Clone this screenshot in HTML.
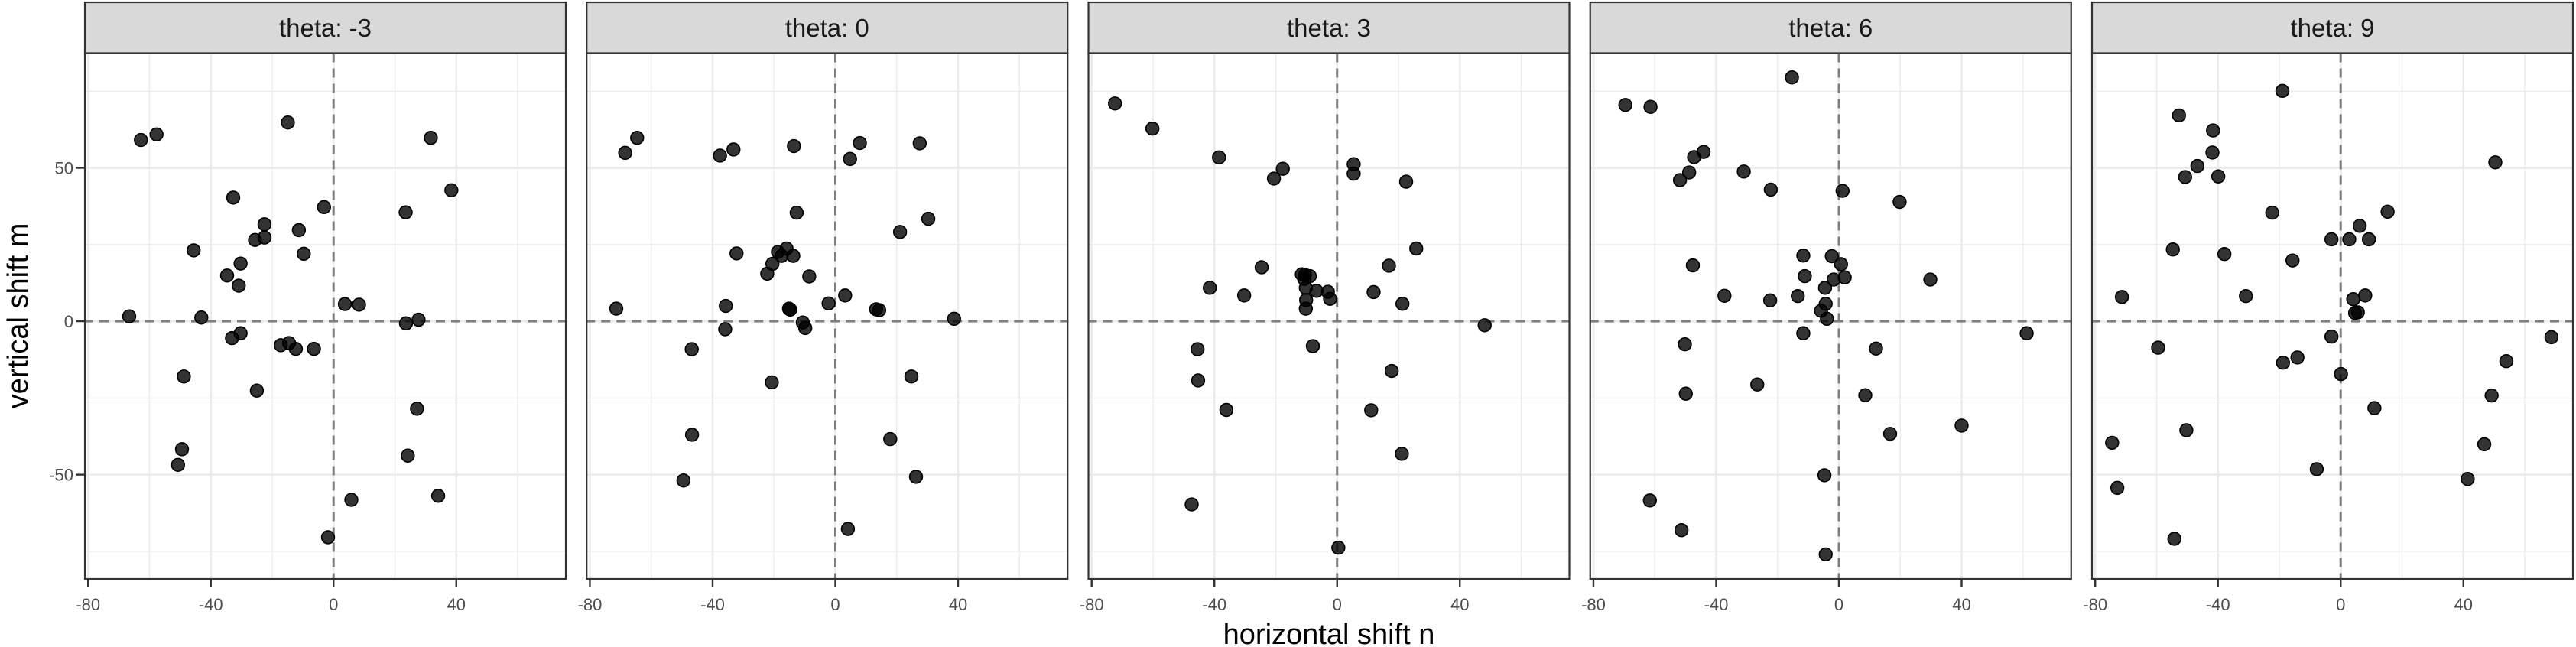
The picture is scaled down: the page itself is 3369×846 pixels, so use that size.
<!DOCTYPE html>
<html><head><meta charset="utf-8"><style>
html,body{margin:0;padding:0;background:#fff;}
svg{display:block;font-family:"Liberation Sans",Arial,sans-serif;}
</style></head><body>
<svg id="chart" width="3369" height="846" viewBox="0 0 3369 846" xmlns="http://www.w3.org/2000/svg">
<text x="1738" y="842" font-size="38" text-anchor="middle" fill="#000">horizontal shift n</text>
<text transform="translate(36,413) rotate(-90)" font-size="38" text-anchor="middle" fill="#000">vertical shift m</text>
</svg>
<script>
const thetas = [-3, 0, 3, 6, 9];
const xTicks = [-80, -40, 0, 40];
const yTicks = [-50, 0, 50];
const xMinor = [-60, -20, 20, 60];
const yMinor = [-75, -25, 25, 75];
const nVals = [
 [-62.8,-57.7,-14.9,31.7,38.4,-32.7,-3.1,23.5,-22.5,-11.3,-25.6,-22.5,-45.6,-9.7,-30.3,-34.7,-30.9,3.7,8.3,-66.6,-43.1,23.6,27.7,-33.1,-30.3,-17.2,-14.5,-12.3,-6.4,-48.8,-25.0,27.2,-49.4,-50.7,24.2,34.1,5.8,-1.8],
 [-64.6,-68.5,-37.6,-33.2,-13.5,8.0,4.8,27.5,-12.6,30.3,21.1,-32.2,-18.7,-15.9,-17.5,-13.7,-20.5,-22.2,-8.5,3.2,-2.2,-35.7,-71.4,-15.1,-14.7,13.3,14.3,38.7,-10.6,-9.8,-35.9,-46.8,-20.7,24.8,-46.7,17.9,-49.5,26.3,4.1],
 [-72.4,-60.2,-38.5,-17.7,-20.6,5.4,5.4,22.5,25.8,-24.6,16.9,-11.5,-10.5,-8.9,-10.7,-6.7,-3.0,-2.3,-10.2,-10.1,-10.2,-41.5,-30.3,11.9,21.3,48.1,-7.9,-45.5,-45.3,17.8,-36.1,11.1,21.1,-47.4,0.4],
 [-15.3,-69.6,-61.4,-44.1,-47.2,-48.8,-51.8,-31.0,-22.2,1.2,19.8,-11.6,-2.3,0.7,-47.6,-11.1,-1.7,1.9,29.8,-4.5,-37.3,-22.4,-13.4,-4.3,-5.8,-3.9,-11.6,61.2,-50.2,12.1,-26.6,-49.9,8.6,40.0,16.7,-4.7,-61.6,-51.3,-4.3],
 [-19.0,-52.7,-41.6,-41.8,-46.7,-50.7,-39.9,50.4,-22.3,15.3,6.2,-3.0,2.8,9.2,-54.7,-37.9,-15.7,-71.3,-30.9,8.0,4.1,4.7,5.6,-3.0,68.7,-59.5,-18.8,-14.1,0.1,54.0,49.2,11.0,-50.3,-74.5,46.8,-7.8,41.4,-72.8,-54.2]
];
const mVals = [
 [59.1,60.9,64.8,59.8,42.7,40.3,37.2,35.5,31.6,29.7,26.5,27.3,23.1,22.0,18.8,14.9,11.6,5.6,5.4,1.6,1.2,-0.7,0.5,-5.5,-3.9,-7.8,-7.1,-9.0,-9.0,-18.0,-22.6,-28.5,-41.7,-46.8,-43.8,-56.9,-58.2,-70.4],
 [59.8,54.9,54.0,56.0,57.1,58.1,52.9,58.0,35.4,33.4,29.1,22.1,22.6,23.7,21.3,21.3,18.7,15.5,14.6,8.4,5.8,5.0,4.1,4.1,3.8,3.9,3.6,0.8,-0.4,-2.2,-2.6,-9.1,-19.9,-18.0,-37.0,-38.4,-51.9,-50.7,-67.7],
 [71.0,62.8,53.4,49.7,46.5,51.2,48.1,45.5,23.7,17.6,18.1,15.3,15.1,14.7,13.8,9.9,9.6,7.3,10.9,6.9,4.1,10.9,8.4,9.5,5.7,-1.3,-8.1,-9.1,-19.3,-16.2,-28.9,-29.0,-43.2,-59.7,-73.8],
 [79.5,70.5,69.9,55.2,53.5,48.5,46.0,48.8,42.9,42.5,38.9,21.4,21.2,18.6,18.2,14.7,13.6,14.3,13.6,10.9,8.3,6.8,8.2,5.7,3.4,0.8,-3.9,-3.9,-7.5,-8.9,-20.6,-23.6,-24.1,-34.0,-36.7,-50.2,-58.4,-68.1,-76.0],
 [75.1,67.1,62.2,55.0,50.6,47.0,47.2,51.8,35.4,35.7,31.1,26.7,26.7,26.7,23.4,21.9,19.8,7.9,8.2,8.4,7.2,2.7,2.9,-5.0,-5.2,-8.6,-13.5,-11.8,-17.2,-13.0,-24.2,-28.3,-35.5,-39.6,-40.1,-48.2,-51.4,-54.3,-70.9]
];
const NS='http://www.w3.org/2000/svg';
const svg=document.getElementById('chart');
const P0=110, PW=631, PITCH=656.25, STRIP_T=2, TOP=69.5, BOT=757;
const XMIN=-81.3, XMAX=75.95, YMAX=87.4, YMIN=-84.0;
function mk(tag,attrs,parent){const e=document.createElementNS(NS,tag);for(const k in attrs)e.setAttribute(k,attrs[k]);(parent||svg).appendChild(e);return e;}
thetas.forEach((th,i)=>{
  const L=P0+i*PITCH;
  const sx=v=>L+(v-XMIN)/(XMAX-XMIN)*PW;
  const sy=v=>TOP+(YMAX-v)/(YMAX-YMIN)*(BOT-TOP);
  const g=mk('g',{});
  
  
  const bg=mk('rect',{x:L,y:TOP,width:PW,height:BOT-TOP,fill:'#fff'},g);
  
  
  xMinor.forEach(v=>{const l=mk('line',{x1:sx(v),x2:sx(v),y1:TOP,y2:BOT,stroke:'#ebebeb','stroke-width':1.3},g);});
  yMinor.forEach(v=>{const l=mk('line',{x1:L,x2:L+PW,y1:sy(v),y2:sy(v),stroke:'#ebebeb','stroke-width':1.3},g);});
  xTicks.forEach(v=>{const l=mk('line',{x1:sx(v),x2:sx(v),y1:TOP,y2:BOT,stroke:'#ebebeb','stroke-width':2.6},g);});
  yTicks.forEach(v=>{const l=mk('line',{x1:L,x2:L+PW,y1:sy(v),y2:sy(v),stroke:'#ebebeb','stroke-width':2.6},g);});
  const hz=mk('line',{x1:L,x2:L+PW,y1:sy(0),y2:sy(0),stroke:'#7f7f7f','stroke-width':3,'stroke-dasharray':'12 8'},g);
  
  
  const vz=mk('line',{x1:sx(0),x2:sx(0),y1:TOP,y2:BOT,stroke:'#7f7f7f','stroke-width':3,'stroke-dasharray':'12 8'},g);
  
  
  nVals[i].forEach((n,j)=>{
    const c=mk('circle',{cx:sx(n),cy:sy(mVals[i][j]),r:8.4,fill:'rgba(0,0,0,0.8)',stroke:'#000','stroke-width':1.6},g);
    
    
  });
  const bd=mk('rect',{x:L+1,y:TOP,width:PW-2,height:BOT-TOP,fill:'none',stroke:'#333','stroke-width':2.2},g);
  
  
  const st=mk('rect',{x:L+1,y:STRIP_T+1,width:PW-2,height:TOP-STRIP_T-1,fill:'#d9d9d9',stroke:'#333','stroke-width':2.2},g);
  
  
  const tt=mk('text',{x:L+PW/2,y:48,'font-size':33,'text-anchor':'middle',fill:'#1a1a1a'},g);
  tt.textContent='theta: '+th;
  
  
  xTicks.forEach(v=>{
    const t=mk('line',{x1:sx(v),x2:sx(v),y1:BOT,y2:BOT+11,stroke:'#333','stroke-width':2.4},g);
    
    
    const lb=mk('text',{x:sx(v),y:798,'font-size':22,'text-anchor':'middle',fill:'#4d4d4d'},g);
    lb.textContent=v;
    
    
  });
  if(i===0){
    yTicks.forEach(v=>{
      const t=mk('line',{x1:L-11,x2:L,y1:sy(v),y2:sy(v),stroke:'#333','stroke-width':2.4},g);
      
      
      const lb=mk('text',{x:L-14,y:sy(v)+8,'font-size':22,'text-anchor':'end',fill:'#4d4d4d'},g);
      lb.textContent=v;
      
      
    });
  }
});
</script>
</body></html>
